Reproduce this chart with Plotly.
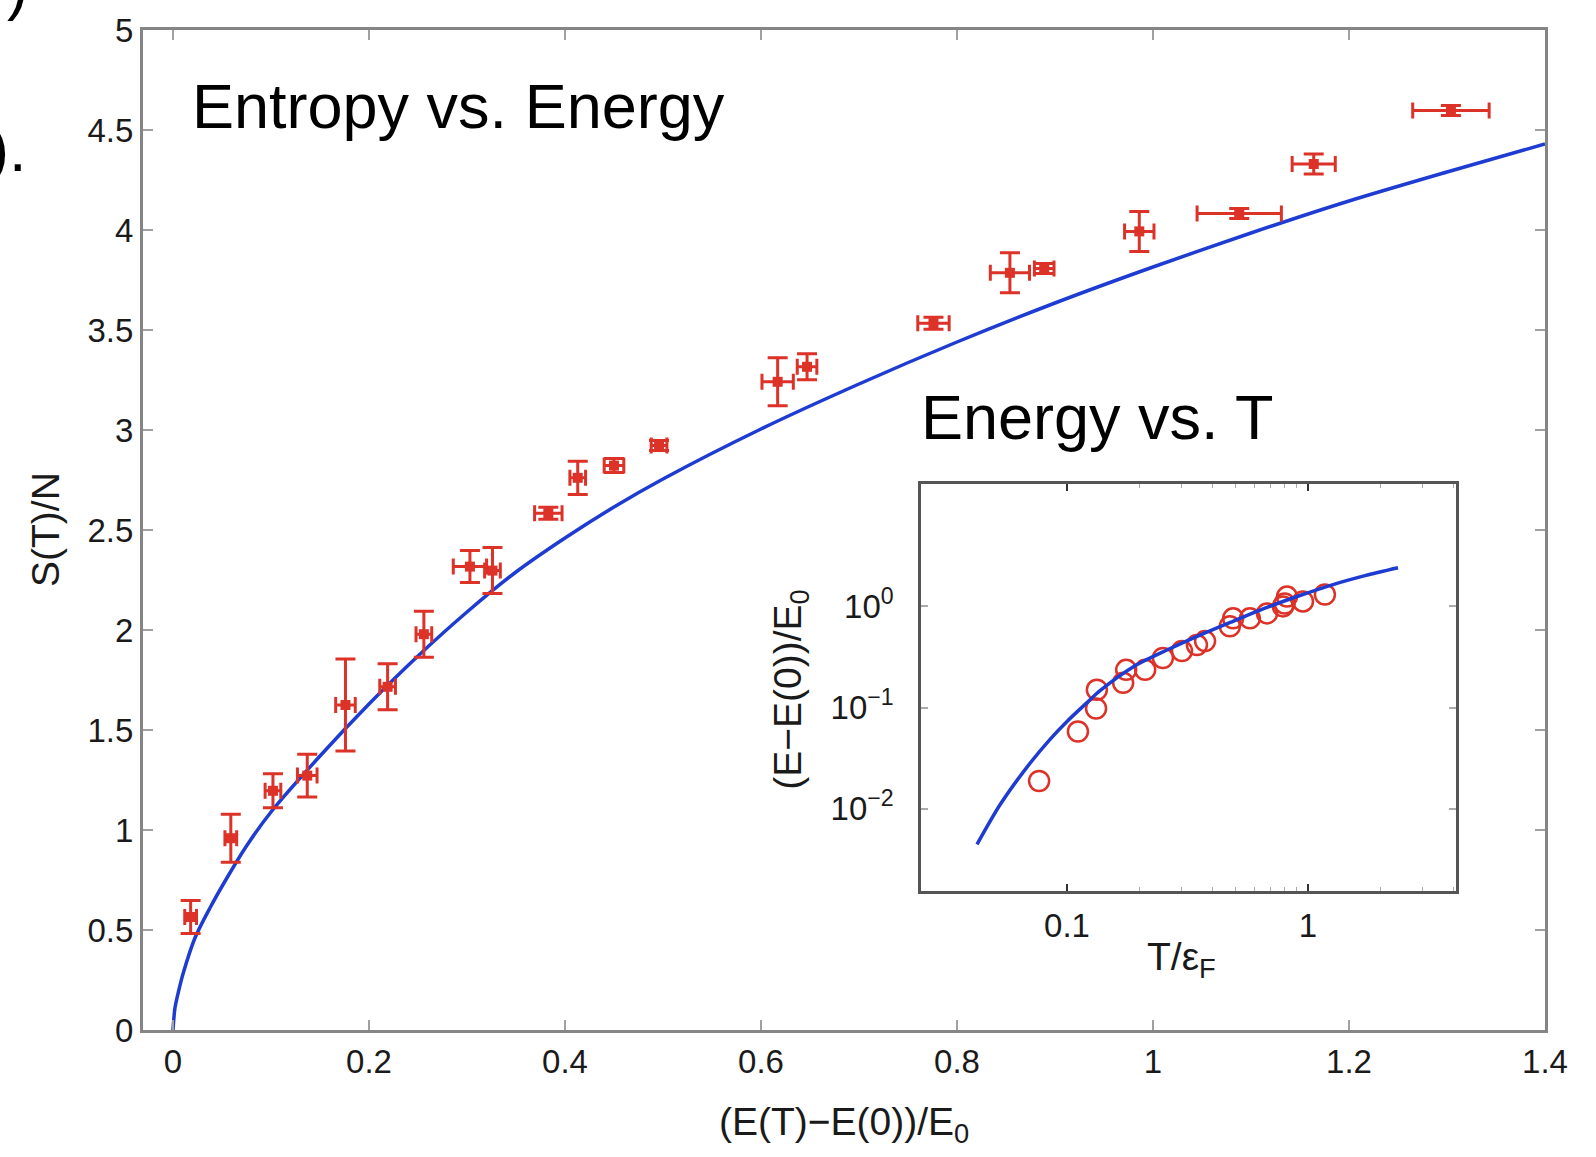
import plotly.graph_objects as go

# ---- main panel: entropy per particle vs. energy ----
energy = [0.018, 0.059, 0.102, 0.137, 0.176, 0.219, 0.256, 0.303, 0.326, 0.383, 0.413,
          0.450, 0.496, 0.617, 0.647, 0.776, 0.854, 0.889, 0.986, 1.088, 1.164, 1.304]
entropy = [0.565, 0.959, 1.196, 1.272, 1.625, 1.716, 1.979, 2.317, 2.297, 2.584, 2.761,
           2.822, 2.923, 3.241, 3.316, 3.534, 3.786, 3.807, 3.993, 4.082, 4.330, 4.598]
entropy_err = [0.083, 0.12, 0.085, 0.107, 0.23, 0.115, 0.115, 0.08, 0.115, 0.03, 0.083,
               0.035, 0.025, 0.12, 0.065, 0.03, 0.1, 0.025, 0.1, 0.025, 0.05, 0.025]
energy_err = [0.006, 0.006, 0.008, 0.01, 0.01, 0.008, 0.008, 0.017, 0.008, 0.014, 0.008,
              0.01, 0.008, 0.016, 0.01, 0.016, 0.02, 0.01, 0.015, 0.043, 0.022, 0.039]

# theory curve S(E)
theory_e = [0.0, 0.002, 0.006, 0.0102, 0.0224, 0.0377, 0.055, 0.075, 0.1, 0.15, 0.2, 0.25,
            0.3, 0.35, 0.4, 0.45, 0.5, 0.6, 0.7, 0.8, 0.9, 1.0, 1.1, 1.2, 1.3, 1.4]
theory_s = [0.0, 0.11, 0.20, 0.28, 0.46, 0.61, 0.76, 0.92, 1.09, 1.37, 1.63, 1.87,
            2.09, 2.29, 2.46, 2.615, 2.755, 3.005, 3.23, 3.44, 3.635, 3.815, 3.985, 4.145,
            4.29, 4.43]

x_ticks = [0, 0.2, 0.4, 0.6, 0.8, 1.0, 1.2, 1.4]
x_ticklabels = ["0", "0.2", "0.4", "0.6", "0.8", "1", "1.2", "1.4"]
y_ticks = [0, 0.5, 1, 1.5, 2, 2.5, 3, 3.5, 4, 4.5, 5]
y_ticklabels = ["0", "0.5", "1", "1.5", "2", "2.5", "3", "3.5", "4", "4.5", "5"]

# ---- inset: energy vs. temperature (log-log) ----
inset_t = [0.0766, 0.111, 0.132, 0.133, 0.171, 0.176, 0.211, 0.25, 0.30, 0.346, 0.374,
           0.474, 0.489, 0.574, 0.676, 0.787, 0.80, 0.818, 0.953, 1.175]
inset_e = [0.0188, 0.058, 0.098, 0.15, 0.176, 0.236, 0.236, 0.309, 0.362, 0.415, 0.454,
           0.637, 0.762, 0.762, 0.853, 1.0, 1.07, 1.25, 1.12, 1.31]

inset_theory_t = [0.04232, 0.05272, 0.06823, 0.08503, 0.1, 0.1211, 0.1371, 0.1879, 0.2600,
                  0.3564, 0.4887, 0.6761, 0.9265, 1.270, 1.724, 2.363]
inset_theory_e = [0.004436, 0.01094, 0.02582, 0.04855, 0.07295, 0.1120, 0.1469, 0.2523,
                  0.3706, 0.5200, 0.7129, 0.9777, 1.282, 1.643, 2.013, 2.412]

inset_x_ticks = [0.1, 1]
inset_x_ticklabels = ["0.1", "1"]
inset_x_minor = [0.2, 0.3, 0.4, 0.5, 0.6, 0.7, 0.8, 0.9, 2, 3, 4]
inset_y_ticks = [0.01, 0.1, 1]
inset_y_ticklabels = ["10<sup>\u22122</sup>", "10<sup>\u22121</sup>", "10<sup>0</sup>"]

RED = "#dc3228"
BLUE = "#1e3cd2"
FONT = "Liberation Sans, Arial, Helvetica, sans-serif"
TXT = "#1a1a1a"

fig = go.Figure()

fig.add_trace(go.Scatter(
    x=theory_e, y=theory_s, mode="lines",
    line=dict(color=BLUE, width=3.5, shape="spline", smoothing=0.8),
    xaxis="x", yaxis="y", hoverinfo="skip"))

fig.add_trace(go.Scatter(
    x=energy, y=entropy, mode="markers",
    marker=dict(symbol="square", size=10, color=RED),
    error_y=dict(type="data", array=entropy_err, color=RED, thickness=3, width=10),
    error_x=dict(type="data", array=energy_err, color=RED, thickness=3, width=8),
    xaxis="x", yaxis="y"))

fig.add_trace(go.Scatter(
    x=inset_t, y=inset_e, mode="markers",
    marker=dict(symbol="circle-open", size=20, color=RED, line=dict(width=2.5, color=RED)),
    xaxis="x2", yaxis="y2"))

fig.add_trace(go.Scatter(
    x=inset_theory_t, y=inset_theory_e, mode="lines",
    line=dict(color=BLUE, width=3.5, shape="spline", smoothing=0.8),
    xaxis="x2", yaxis="y2", hoverinfo="skip"))

axis_common = dict(showgrid=False, zeroline=False, showline=True, mirror="ticks",
                   ticks="inside")

fig.update_layout(
    width=1596, height=1157,
    margin=dict(l=143, r=51, t=22, b=127),
    paper_bgcolor="white", plot_bgcolor="white",
    showlegend=False,
    font=dict(family=FONT, color=TXT),
    xaxis=dict(**axis_common, range=[-0.0306, 1.4], tickvals=x_ticks, ticktext=x_ticklabels,
               linecolor="#858585", linewidth=3, tickcolor="#a0a0a0", tickwidth=1.5,
               ticklen=10, tickfont=dict(size=33, color=TXT), domain=[0, 1]),
    yaxis=dict(**axis_common, range=[0, 5], tickvals=y_ticks, ticktext=y_ticklabels,
               linecolor="#858585", linewidth=3, tickcolor="#a0a0a0", tickwidth=1.5,
               ticklen=10, tickfont=dict(size=33, color=TXT), domain=[0, 1]),
    xaxis2=dict(**axis_common, type="log", range=[-1.606, 0.614], anchor="y2",
                domain=[0.5549, 0.9365], tickvals=inset_x_ticks, ticktext=inset_x_ticklabels,
                linecolor="#555555", linewidth=2.5, tickcolor="#333333", tickwidth=2,
                ticklen=7, tickfont=dict(size=33, color=TXT), ticklabelstandoff=4,
                minor=dict(tickvals=inset_x_minor, ticks="inside", ticklen=4,
                           tickcolor="#aaaaaa", tickwidth=1)),
    yaxis2=dict(**axis_common, type="log", range=[-2.814, 1.206], anchor="x2",
                domain=[0.1389, 0.5456], tickvals=inset_y_ticks, ticktext=inset_y_ticklabels,
                linecolor="#555555", linewidth=2.5, tickcolor="#aaaaaa", tickwidth=1.5,
                ticklen=7, tickfont=dict(size=33, color=TXT), ticklabelstandoff=18),
)

annotations = [
    dict(text="(E(T)\u2212E(0))/E<sub>0</sub>", x=0.5, y=-0.094, xref="paper", yref="paper",
         xanchor="center", yanchor="middle", showarrow=False, font=dict(size=39, color=TXT)),
    dict(text="S(T)/N", x=-0.0699, y=0.5, xref="paper", yref="paper", textangle=-90,
         xanchor="center", yanchor="middle", showarrow=False, font=dict(size=39, color=TXT)),
    dict(text="T/\u03b5<sub>F</sub>", x=0.741, y=0.071, xref="paper", yref="paper",
         xanchor="center", yanchor="middle", showarrow=False, font=dict(size=39, color=TXT)),
    dict(text="(E\u2212E(0))/E<sub>0</sub>", x=0.462, y=0.340, xref="paper", yref="paper",
         textangle=-90, xanchor="center", yanchor="middle", showarrow=False,
         font=dict(size=39, color=TXT)),
    dict(text="Entropy vs. Energy", x=0.0335, y=0.924, xref="paper", yref="paper",
         xanchor="left", yanchor="middle", showarrow=False, font=dict(size=63, color="black")),
    dict(text="Energy vs. T", x=0.5535, y=0.613, xref="paper", yref="paper",
         xanchor="left", yanchor="middle", showarrow=False, font=dict(size=63, color="black")),
    dict(text=").", x=-0.082, y=0.881, xref="paper", yref="paper",
         xanchor="right", yanchor="middle", showarrow=False, font=dict(size=63, color="black")),
    dict(text=")", x=-0.0806, y=1.0437, xref="paper", yref="paper",
         xanchor="right", yanchor="middle", showarrow=False, font=dict(size=63, color="black")),
]
fig.update_layout(annotations=annotations)

fig.write_html("out.html")
